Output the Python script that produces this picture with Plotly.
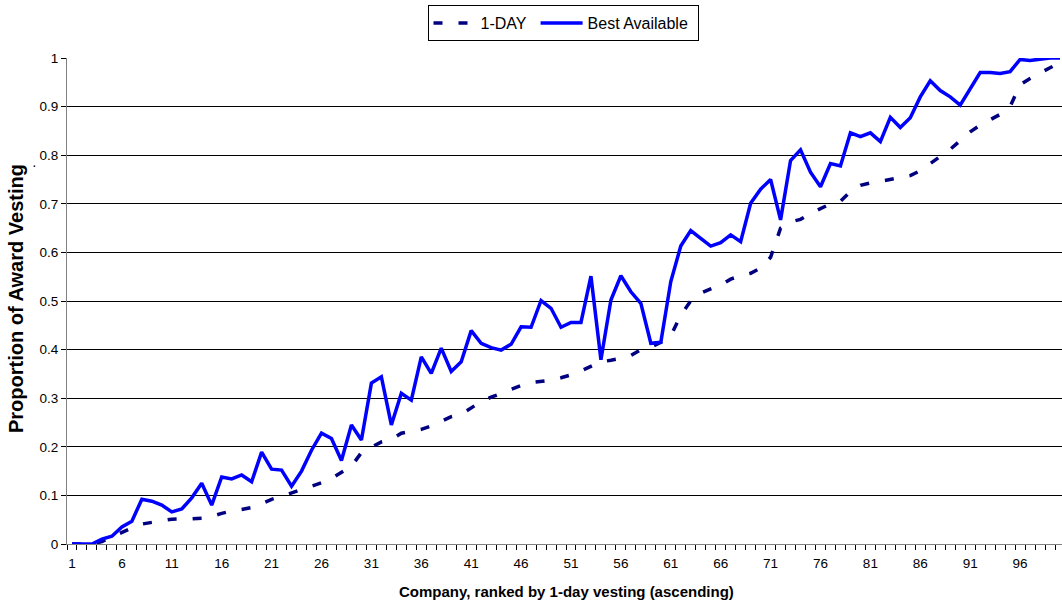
import plotly.graph_objects as go

companies = list(range(1, 101))

one_day = [
    0.000, 0.000, 0.000, 0.005, 0.015, 0.024, 0.033, 0.041, 0.045, 0.048,
    0.051, 0.051, 0.052, 0.053, 0.057, 0.063, 0.068, 0.071, 0.075, 0.083,
    0.092, 0.098, 0.105, 0.112, 0.119, 0.126, 0.135, 0.147, 0.160, 0.188,
    0.200, 0.210, 0.215, 0.228, 0.232, 0.236, 0.243, 0.252, 0.262, 0.267,
    0.280, 0.293, 0.302, 0.310, 0.318, 0.326, 0.332, 0.334, 0.337, 0.342,
    0.348, 0.356, 0.366, 0.375, 0.378, 0.382, 0.388, 0.400, 0.405, 0.415,
    0.428, 0.471, 0.500, 0.516, 0.525, 0.533, 0.545, 0.552, 0.557, 0.568,
    0.590, 0.650, 0.663, 0.668, 0.680, 0.690, 0.700, 0.705, 0.725, 0.738,
    0.743, 0.746, 0.750, 0.754, 0.758, 0.768, 0.782, 0.797, 0.812, 0.830,
    0.848, 0.862, 0.874, 0.884, 0.900, 0.945, 0.958, 0.970, 0.980, 0.990,
]

best_available = [
    0.000, 0.000, 0.000, 0.010, 0.016, 0.035, 0.047, 0.092, 0.088, 0.080,
    0.066, 0.072, 0.095, 0.125, 0.080, 0.138, 0.134, 0.142, 0.128, 0.189,
    0.154, 0.152, 0.119, 0.150, 0.193, 0.228, 0.217, 0.172, 0.245, 0.214,
    0.331, 0.344, 0.245, 0.310, 0.296, 0.385, 0.351, 0.403, 0.355, 0.375,
    0.439, 0.413, 0.404, 0.399, 0.411, 0.447, 0.446, 0.501, 0.485, 0.446,
    0.456, 0.456, 0.551, 0.379, 0.502, 0.552, 0.519, 0.495, 0.413, 0.415,
    0.540, 0.613, 0.645, 0.629, 0.613, 0.620, 0.636, 0.622, 0.701, 0.730,
    0.750, 0.667, 0.789, 0.811, 0.765, 0.735, 0.783, 0.778, 0.846, 0.838,
    0.846, 0.828, 0.878, 0.857, 0.877, 0.920, 0.953, 0.933, 0.920, 0.903,
    0.936, 0.970, 0.970, 0.968, 0.972, 0.997, 0.995, 0.998, 1.000, 1.000,
]

x_tick_vals = list(range(1, 100, 5))
x_tick_text = [str(v) for v in x_tick_vals]
y_tick_vals = [round(0.1 * k, 1) for k in range(0, 11)]
y_tick_text = ["0", "0.1", "0.2", "0.3", "0.4", "0.5", "0.6", "0.7", "0.8", "0.9", "1"]

FONT = "Liberation Sans, Arial, sans-serif"
PL, PT, PB, W, H = 67, 58, 62, 1062, 606
PW, PH = W - PL, H - PT - PB

fig = go.Figure()
fig.add_trace(go.Scatter(
    x=companies, y=one_day, mode="lines", name="1-DAY ",
    line=dict(color="#000080", width=3.5, dash="9px,16px"),
))
fig.add_trace(go.Scatter(
    x=companies, y=best_available, mode="lines", name="Best Available ",
    line=dict(color="#0000FF", width=3.5),
))

fig.update_layout(
    width=W, height=H,
    margin=dict(l=PL, r=0, t=PT, b=PB, autoexpand=False),
    paper_bgcolor="white", plot_bgcolor="white",
    font=dict(family=FONT, color="black", size=13),
    showlegend=True,
    legend=dict(
        orientation="h", x=(563 - PL) / PW, xanchor="center",
        y=1 + (PT - 5) / PH, yanchor="top",
        bordercolor="black", borderwidth=1, bgcolor="white",
        font=dict(size=16, family=FONT), itemwidth=42,
        tracegroupgap=0,
    ),
    xaxis=dict(
        range=[0.5, 100.2], tickmode="array", tickvals=x_tick_vals,
        ticktext=x_tick_text, ticks="", showgrid=False, zeroline=False,
        showline=True, linecolor="#808080", linewidth=1, automargin=False,
        tickfont=dict(size=13.5), ticklabelstandoff=7,
        minor=dict(ticks="outside", tick0=0.5, dtick=1, ticklen=5,
                   tickcolor="black", tickwidth=1, showgrid=False),
    ),
    yaxis=dict(
        range=[0, 1], tickmode="array", tickvals=y_tick_vals,
        ticktext=y_tick_text, ticks="outside", ticklen=5, tickcolor="black",
        showgrid=True, gridcolor="black", gridwidth=1, zeroline=False,
        showline=True, linecolor="#808080", linewidth=1, automargin=False,
        tickfont=dict(size=13.5),
    ),
)

# axis titles
fig.add_annotation(text="<b>Company, ranked by 1-day vesting (ascending)</b>",
                   x=(566 - PL) / PW, y=-(591 - (PT + PH)) / PH,
                   xref="paper", yref="paper", showarrow=False,
                   xanchor="center", yanchor="middle", font=dict(size=15))
fig.add_annotation(text="<b>Proportion of Award Vesting</b>",
                   x=(16 - PL) / PW, y=(PT + PH - 299) / PH, textangle=-90,
                   xref="paper", yref="paper", showarrow=False,
                   xanchor="center", yanchor="middle", font=dict(size=20))
fig.add_annotation(text="·", x=(30 - PL) / PW, y=(PT + PH - 155) / PH,
                   xref="paper", yref="paper", showarrow=False,
                   font=dict(size=14))

fig.write_html("out.html", config={"displayModeBar": False},
               post_script="document.body.style.margin='0';")
